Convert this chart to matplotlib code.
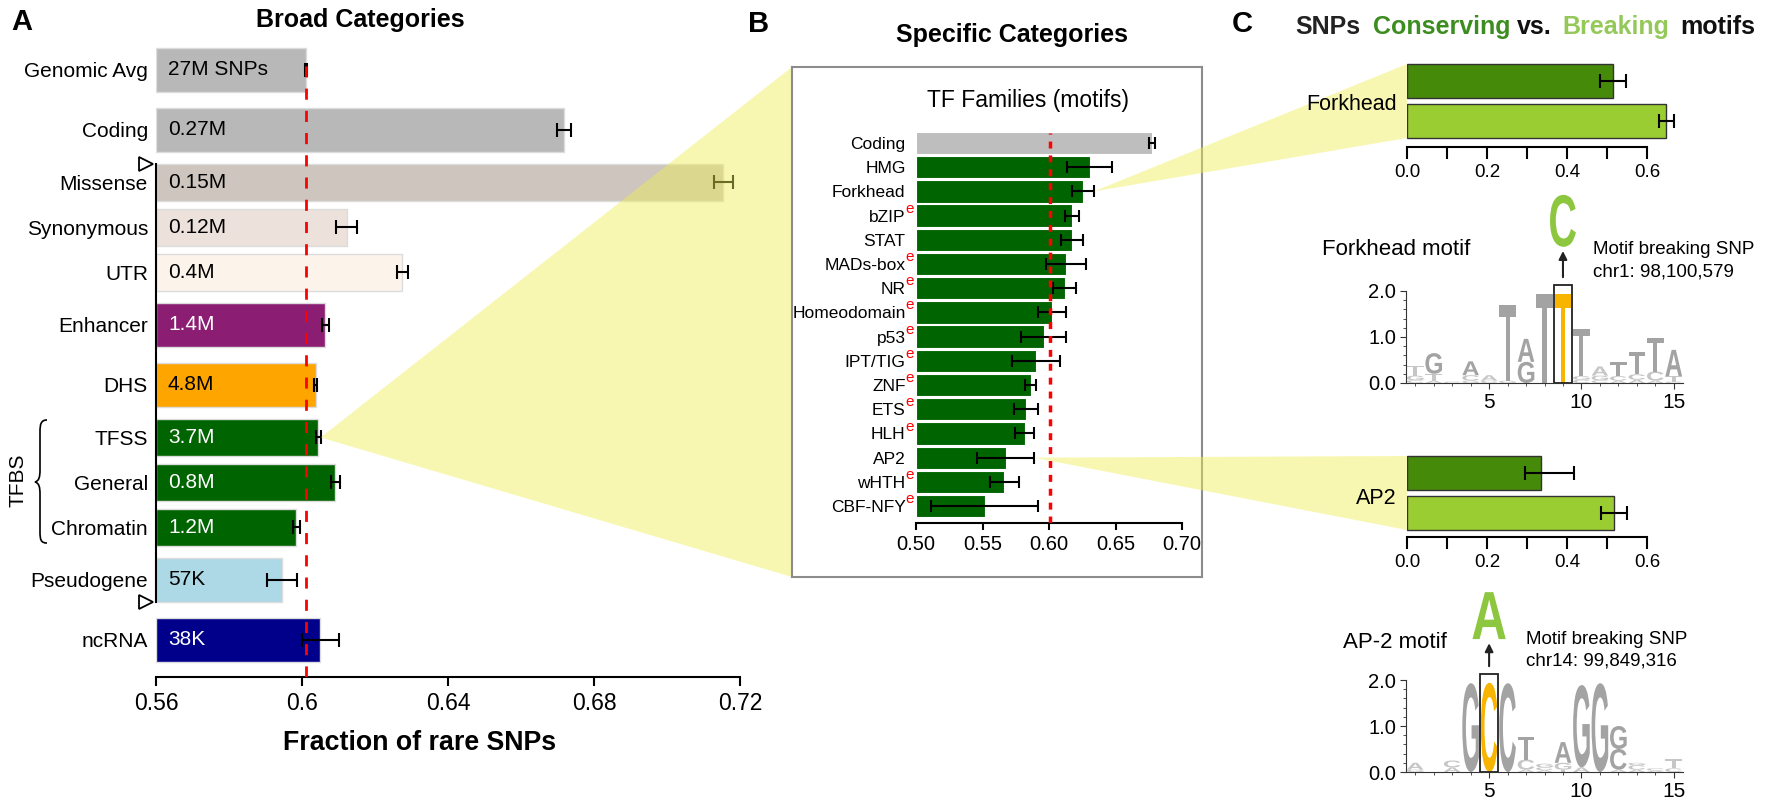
import numpy as np
import matplotlib
matplotlib.use('Agg')
import matplotlib.pyplot as plt
from matplotlib import font_manager as fm
from matplotlib.path import Path
from matplotlib.patches import PathPatch, Polygon, Rectangle
from matplotlib.textpath import TextPath
from matplotlib.transforms import Affine2D, offset_copy
from matplotlib.font_manager import FontProperties

# ---------------- data ----------------
a_labels = ['Genomic Avg', 'Coding', 'Missense', 'Synonymous', 'UTR', 'Enhancer',
            'DHS', 'TFSS', 'General', 'Chromatin', 'Pseudogene', 'ncRNA']
a_values = [0.601, 0.6718, 0.7154, 0.6122, 0.6275, 0.6064,
            0.6037, 0.6044, 0.6091, 0.5984, 0.5945, 0.6050]
a_errors = [0.0003, 0.002, 0.0026, 0.003, 0.0016, 0.001,
            0.0005, 0.0007, 0.0012, 0.001, 0.004, 0.005]
a_counts = ['27M SNPs', '0.27M', '0.15M', '0.12M', '0.4M', '1.4M',
            '4.8M', '3.7M', '0.8M', '1.2M', '57K', '38K']
a_colors = ['#b8b8b8', '#b8b8b8', '#cdc5be', '#ede1dc', '#fcf4ea', '#8b1e73',
            '#ffa500', '#006400', '#006400', '#006400', '#add8e6', '#00008b']
a_textcol = ['black', 'black', 'black', 'black', 'black', 'white',
             'black', 'white', 'white', 'white', 'black', 'white']
a_ticks = [0.56, 0.60, 0.64, 0.68, 0.72]
a_ticklabels = ['0.56', '0.6', '0.64', '0.68', '0.72']
genomic_avg = 0.601

b_labels = ['Coding', 'HMG', 'Forkhead', 'bZIP', 'STAT', 'MADs-box', 'NR', 'Homeodomain',
            'p53', 'IPT/TIG', 'ZNF', 'ETS', 'HLH', 'AP2', 'wHTH', 'CBF-NFY']
b_values = [0.6775, 0.6305, 0.6255, 0.6172, 0.6170, 0.6127, 0.6117, 0.6022,
            0.5959, 0.5904, 0.5861, 0.5828, 0.5816, 0.5673, 0.5665, 0.5517]
b_errors = [0.002, 0.0167, 0.0083, 0.0054, 0.0083, 0.015, 0.0088, 0.0105,
            0.0166, 0.0182, 0.004, 0.0092, 0.007, 0.0214, 0.0107, 0.0404]
b_enriched = [False, False, False, True, False, True, True, True,
              True, True, True, True, True, False, True, True]
b_ticks = [0.50, 0.55, 0.60, 0.65, 0.70]

c_groups = ['Forkhead', 'AP2']
c_conserving = [0.515, 0.335]
c_breaking = [0.648, 0.5175]
c_cons_lo = [0.032, 0.041]
c_cons_hi = [0.033, 0.082]
c_brk_lo = [0.0175, 0.032]
c_brk_hi = [0.019, 0.0325]
c_ticks = [0.0, 0.2, 0.4, 0.6]

# sequence logos: per position, letters stacked bottom -> top with height in bits
fh_logo = [[('C', 0.06), ('G', 0.1), ('T', 0.22)],
           [('A', 0.05), ('T', 0.15), ('G', 0.45)],
           [('C', 0.03)],
           [('G', 0.05), ('C', 0.12), ('A', 0.3)],
           [('C', 0.05), ('A', 0.12)],
           [('G', 0.05), ('T', 1.65)],
           [('G', 0.46), ('A', 0.5)],
           [('T', 1.94)],
           [('T', 1.94)],
           [('C', 0.07), ('G', 0.08), ('T', 1.03)],
           [('C', 0.06), ('G', 0.1), ('A', 0.2)],
           [('A', 0.05), ('C', 0.1), ('T', 0.3)],
           [('A', 0.07), ('C', 0.12), ('T', 0.48)],
           [('A', 0.05), ('C', 0.2), ('T', 0.73)],
           [('C', 0.03), ('T', 0.12), ('A', 0.57)]]
fh_snp = (9, 'C', 'chr1: 98,100,579')

ap_logo = [[('G', 0.05), ('A', 0.15)],
           [],
           [('A', 0.1), ('C', 0.15)],
           [('G', 1.93)],
           [('C', 1.94)],
           [('C', 1.93)],
           [('A', 0.05), ('C', 0.22), ('T', 0.5)],
           [('A', 0.04), ('C', 0.06), ('G', 0.08)],
           [('T', 0.05), ('G', 0.15), ('A', 0.45)],
           [('A', 0.1), ('G', 1.79)],
           [('G', 1.93)],
           [('A', 0.05), ('C', 0.45), ('G', 0.5)],
           [('A', 0.05), ('C', 0.1), ('G', 0.05)],
           [('A', 0.03), ('C', 0.05)],
           [('C', 0.08), ('T', 0.2)]]
ap_snp = (5, 'A', 'chr14: 99,849,316')

# ---------------- fonts / helpers ----------------
names = {f.name for f in fm.fontManager.ttflist}
REG = 'Liberation Sans' if 'Liberation Sans' in names else 'DejaVu Sans'
plt.rcParams['font.family'] = REG

W, H = 1777, 798
CONS = '#468a0a'
BRK = '#9acd32'
YEL = '#efef55'
HI = '#f7b500'
SNPG = '#8dc63f'


def px(x, y):
    return (x / W, 1 - y / H)


def rect(l, t, r, b):
    return [l / W, 1 - b / H, (r - l) / W, (b - t) / H]


def letter(ax, ch, x, y, w, h, color):
    tp = TextPath((0, 0), ch, size=1, prop=FontProperties(family=REG, weight='bold'))
    bb = tp.get_extents()
    t = Affine2D().translate(-bb.x0, -bb.y0).scale(w / bb.width, h / bb.height).translate(x, y)
    ax.add_patch(PathPatch(t.transform_path(tp), fc=color, ec='none', clip_on=False))


fig = plt.figure(figsize=(W / 100, H / 100), dpi=100)

# ---------------- panel A ----------------
axA = fig.add_axes(rect(156, 40, 740, 677))
axA.set_zorder(0)
slots = np.array([4, 4, 3, 3, 3, 4, 4, 3, 3, 3, 4, 4], float)
a_pos = np.cumsum(slots) - slots / 2
a_h = np.where(slots > 3, 2.93, 2.47)
axA.barh(a_pos, np.array(a_values) - 0.56, left=0.56, height=a_h, color=a_colors,
         edgecolor='#dcdcdc', linewidth=1)
axA.errorbar(a_values, a_pos, xerr=a_errors, fmt='none', ecolor='black',
             elinewidth=1.5, capsize=5, capthick=1.5, zorder=3)
axA.axvline(genomic_avg, ymin=0, ymax=1 - 1.2 / 42.47, color='red', ls=(0, (4, 4)), lw=2, zorder=4)
axA.set_xlim(0.56, 0.72)
axA.set_ylim(42.47, 0)
axA.spines[['top', 'right']].set_visible(False)
axA.spines['bottom'].set_linewidth(1.5)
axA.spines['left'].set_linewidth(1.5)
sp_top = a_pos[2] - a_h[2] / 2
sp_bot = a_pos[10] + a_h[10] / 2
axA.spines['left'].set_bounds(sp_top, sp_bot)
axA.set_xticks(a_ticks)
axA.set_xticklabels(a_ticklabels, fontsize=16.5)
axA.tick_params(axis='x', length=6.5, width=1.5, pad=4)
axA.set_yticks(a_pos)
axA.set_yticklabels(a_labels, fontsize=15)
axA.tick_params(axis='y', length=0, pad=5.8)
for p, t, c in zip(a_pos, a_counts, a_textcol):
    axA.annotate(t, xy=(0.56, p), xytext=(8.6, 0), textcoords='offset points',
                 va='center', ha='left', color=c, fontsize=15)
tri = offset_copy(axA.transData, fig=fig, x=-10, y=0, units='dots')
axA.plot([0.56, 0.56], [sp_top, sp_bot], ls='none', marker='>', ms=10, mfc='white',
         mec='black', mew=1.3, transform=tri, clip_on=False)

fig.text(*px(22, 22), 'A', fontsize=21, weight='bold', ha='center', va='center')
fig.text(*px(360, 20), 'Broad Categories', fontsize=18, weight='bold', ha='center', va='center')
fig.text(*px(420, 743), 'Fraction of rare SNPs', fontsize=19.3, weight='bold',
         ha='center', va='center')
fig.text(*px(18, 480), 'TFBS', fontsize=15, rotation=90, ha='center', va='center')

# TFBS brace
bp = [(47, 420), (41, 420), (40, 424), (40, 432), (40, 470), (40, 477), (39, 481), (35, 482),
      (39, 483), (40, 487), (40, 494), (40, 532), (40, 540), (41, 543), (47, 543)]
codes = [Path.MOVETO, Path.CURVE4, Path.CURVE4, Path.CURVE4, Path.LINETO,
         Path.CURVE4, Path.CURVE4, Path.CURVE4, Path.CURVE4, Path.CURVE4, Path.CURVE4,
         Path.LINETO, Path.CURVE4, Path.CURVE4, Path.CURVE4]
fig.add_artist(PathPatch(Path([px(x, y) for x, y in bp], codes), fc='none', ec='black',
                         lw=1.2, transform=fig.transFigure))

# ---------------- panel B ----------------
axBox = fig.add_axes(rect(792, 67, 1202, 577))
axBox.set_zorder(2)
axBox.set_xticks([])
axBox.set_yticks([])
for s in axBox.spines.values():
    s.set_color('#8c8c8c')
    s.set_linewidth(1.5)

axB = fig.add_axes(rect(916, 133, 1182, 523))
axB.set_zorder(3)
axB.patch.set_alpha(0)
b_pos = np.arange(len(b_labels))
b_colors = ['#bebebe'] + ['#006400'] * (len(b_labels) - 1)
axB.barh(b_pos, np.array(b_values) - 0.5, left=0.5, height=0.92, color=b_colors,
         edgecolor='white', linewidth=0.8)
axB.errorbar(b_values, b_pos, xerr=b_errors, fmt='none', ecolor='black',
             elinewidth=1.5, capsize=4, capthick=1.5, zorder=3)
axB.axvline(genomic_avg, color='red', ls=(0, (2, 2)), lw=2.5, zorder=4)
axB.set_xlim(0.5, 0.7)
axB.set_ylim(15.70, -0.413)
axB.spines[['top', 'right', 'left']].set_visible(False)
axB.spines['bottom'].set_linewidth(1.5)
axB.set_xticks(b_ticks)
axB.set_xticklabels(['%.2f' % v for v in b_ticks], fontsize=14.5)
axB.tick_params(axis='x', length=5, width=1.5, pad=4)
axB.set_yticks(b_pos)
axB.set_yticklabels(b_labels, fontsize=12.5)
axB.tick_params(axis='y', length=0, pad=7.5)
for i, e in enumerate(b_enriched):
    if e:
        axB.annotate('e', xy=(0, i), xycoords=('axes fraction', 'data'), xytext=(-7.5, 5),
                     textcoords='offset points', color='red', fontsize=11, va='center', ha='left')

fig.text(*px(759, 24), 'B', fontsize=21, weight='bold', ha='center', va='center')
fig.text(*px(1012, 35), 'Specific Categories', fontsize=18, weight='bold', ha='center', va='center')
fig.text(*px(1028, 100), 'TF Families (motifs)', fontsize=16.5, ha='center', va='center', zorder=5)

# ---------------- panel C ----------------
fig.text(*px(1242, 24), 'C', fontsize=21, weight='bold', ha='center', va='center')
for word, x, col in [('SNPs', 1295, '#222222'), ('Conserving', 1373, '#3c8d1f'),
                     ('vs.', 1517, '#111111'), ('Breaking', 1562, '#94c95a'),
                     ('motifs', 1680, '#111111')]:
    fig.text(*px(x, 27), word, fontsize=18, weight='bold', color=col, ha='left', va='center')

c_axes = []
for k, (t, b, lab_y) in enumerate([(58, 147, 105), (450, 537, 498)]):
    ax = fig.add_axes(rect(1407, t, 1687, b))
    ax.set_zorder(5)
    ax.patch.set_alpha(0)
    ax.barh([0, 1], [c_conserving[k], c_breaking[k]], height=0.85, color=[CONS, BRK],
            edgecolor='#333333', linewidth=1)
    ax.errorbar([c_conserving[k], c_breaking[k]], [0, 1],
                xerr=[[c_cons_lo[k], c_brk_lo[k]], [c_cons_hi[k], c_brk_hi[k]]],
                fmt='none', ecolor='black', elinewidth=1.5, capsize=5, capthick=1.5)
    top = -23 / 40
    ax.set_ylim((b - t) / 40 + top, top)
    ax.set_xlim(0, 0.7)
    ax.spines[['top', 'right', 'left']].set_visible(False)
    ax.spines['bottom'].set_linewidth(1.5)
    ax.spines['bottom'].set_bounds(0, 0.6)
    ax.set_yticks([])
    ax.set_xticks(c_ticks)
    ax.set_xticklabels(['%.1f' % v for v in c_ticks], fontsize=13.5)
    ax.set_xticks([0.1, 0.3, 0.5], minor=True)
    ax.tick_params(axis='x', which='both', length=8.5, width=1.5, pad=4)
    fig.text(*px(1397, lab_y), c_groups[k], fontsize=15.5, ha='right', va='center', zorder=6)
    c_axes.append(ax)


def draw_logo(t, b, stacks, snp, title, title_xy, note_xy, snp_w, snp_y0, snp_h):
    ax = fig.add_axes(rect(1406, t, 1683, b))
    ax.set_zorder(5)
    ax.patch.set_alpha(0)
    hi, ch, loc = snp
    for p, stack in enumerate(stacks, start=1):
        y = 0
        for c, h in stack:
            col = HI if p == hi else ('#a3a3a3' if h >= 0.3 else '#c6c6c6')
            letter(ax, c, p - 0.45, y, 0.9, h, col)
            y += h
    ax.add_patch(Rectangle((hi - 0.5, 0), 1, 2.13, fill=False, ec='#222222', lw=1.3, clip_on=False))
    ax.annotate('', xy=(hi, snp_y0 - 0.03), xytext=(hi, 2.24), annotation_clip=False,
                arrowprops=dict(arrowstyle='-|>', color='#222222', lw=1.5, mutation_scale=12))
    letter(ax, ch, hi - snp_w / 2, snp_y0, snp_w, snp_h, SNPG)
    ax.set_xlim(0.5, 15.5)
    ax.set_ylim(0, 2)
    ax.spines[['top', 'right']].set_visible(False)
    for s in ('left', 'bottom'):
        ax.spines[s].set_color('#333333')
    ax.set_yticks([0, 1, 2])
    ax.set_yticklabels(['0.0', '1.0', '2.0'], fontsize=14.5)
    ax.set_yticks(np.arange(0, 2.01, 0.2), minor=True)
    ax.set_xticks([5, 10, 15])
    ax.set_xticklabels(['5', '10', '15'], fontsize=15)
    ax.set_xticks(np.arange(1, 16), minor=True)
    ax.tick_params(axis='both', which='major', length=4, color='#333333', pad=3)
    ax.tick_params(axis='both', which='minor', length=2.5, color='#333333')
    fig.text(*px(*title_xy), title, fontsize=16, ha='left', va='center')
    fig.text(*px(*note_xy), 'Motif breaking SNP', fontsize=13.5, ha='left', va='center')
    fig.text(*px(note_xy[0], note_xy[1] + 22), loc, fontsize=13.5, ha='left', va='center')
    return ax


draw_logo(291, 383, fh_logo, fh_snp, 'Forkhead motif', (1322, 250), (1593, 250), 1.4, 2.96, 1.13)
draw_logo(680, 772, ap_logo, ap_snp, 'AP-2 motif', (1343, 642), (1526, 639), 1.8, 2.89, 1.02)

# ---------------- yellow zoom wedges ----------------
inv = fig.transFigure.inverted()


def fpt(ax, x, y, axes=False):
    tr = ax.transAxes if axes else ax.transData
    return inv.transform(tr.transform((x, y)))


i_tfss = a_labels.index('TFSS')
wedges = [
    ([fpt(axA, a_values[i_tfss] + a_errors[i_tfss], a_pos[i_tfss]),
      fpt(axBox, 0, 1, True), fpt(axBox, 0, 0, True)], 1),
]
for k, name in enumerate(c_groups):
    i = b_labels.index(name)
    wedges.append(([fpt(axB, b_values[i] + b_errors[i], i),
                    fpt(c_axes[k], 0, -0.425), fpt(c_axes[k], 0, 1.425)], 4))
for pts, z in wedges:
    fig.add_artist(Polygon(pts, closed=True, transform=fig.transFigure, fc=YEL, ec='none',
                           alpha=0.45, zorder=z))

fig.savefig('out.png', dpi=100)
